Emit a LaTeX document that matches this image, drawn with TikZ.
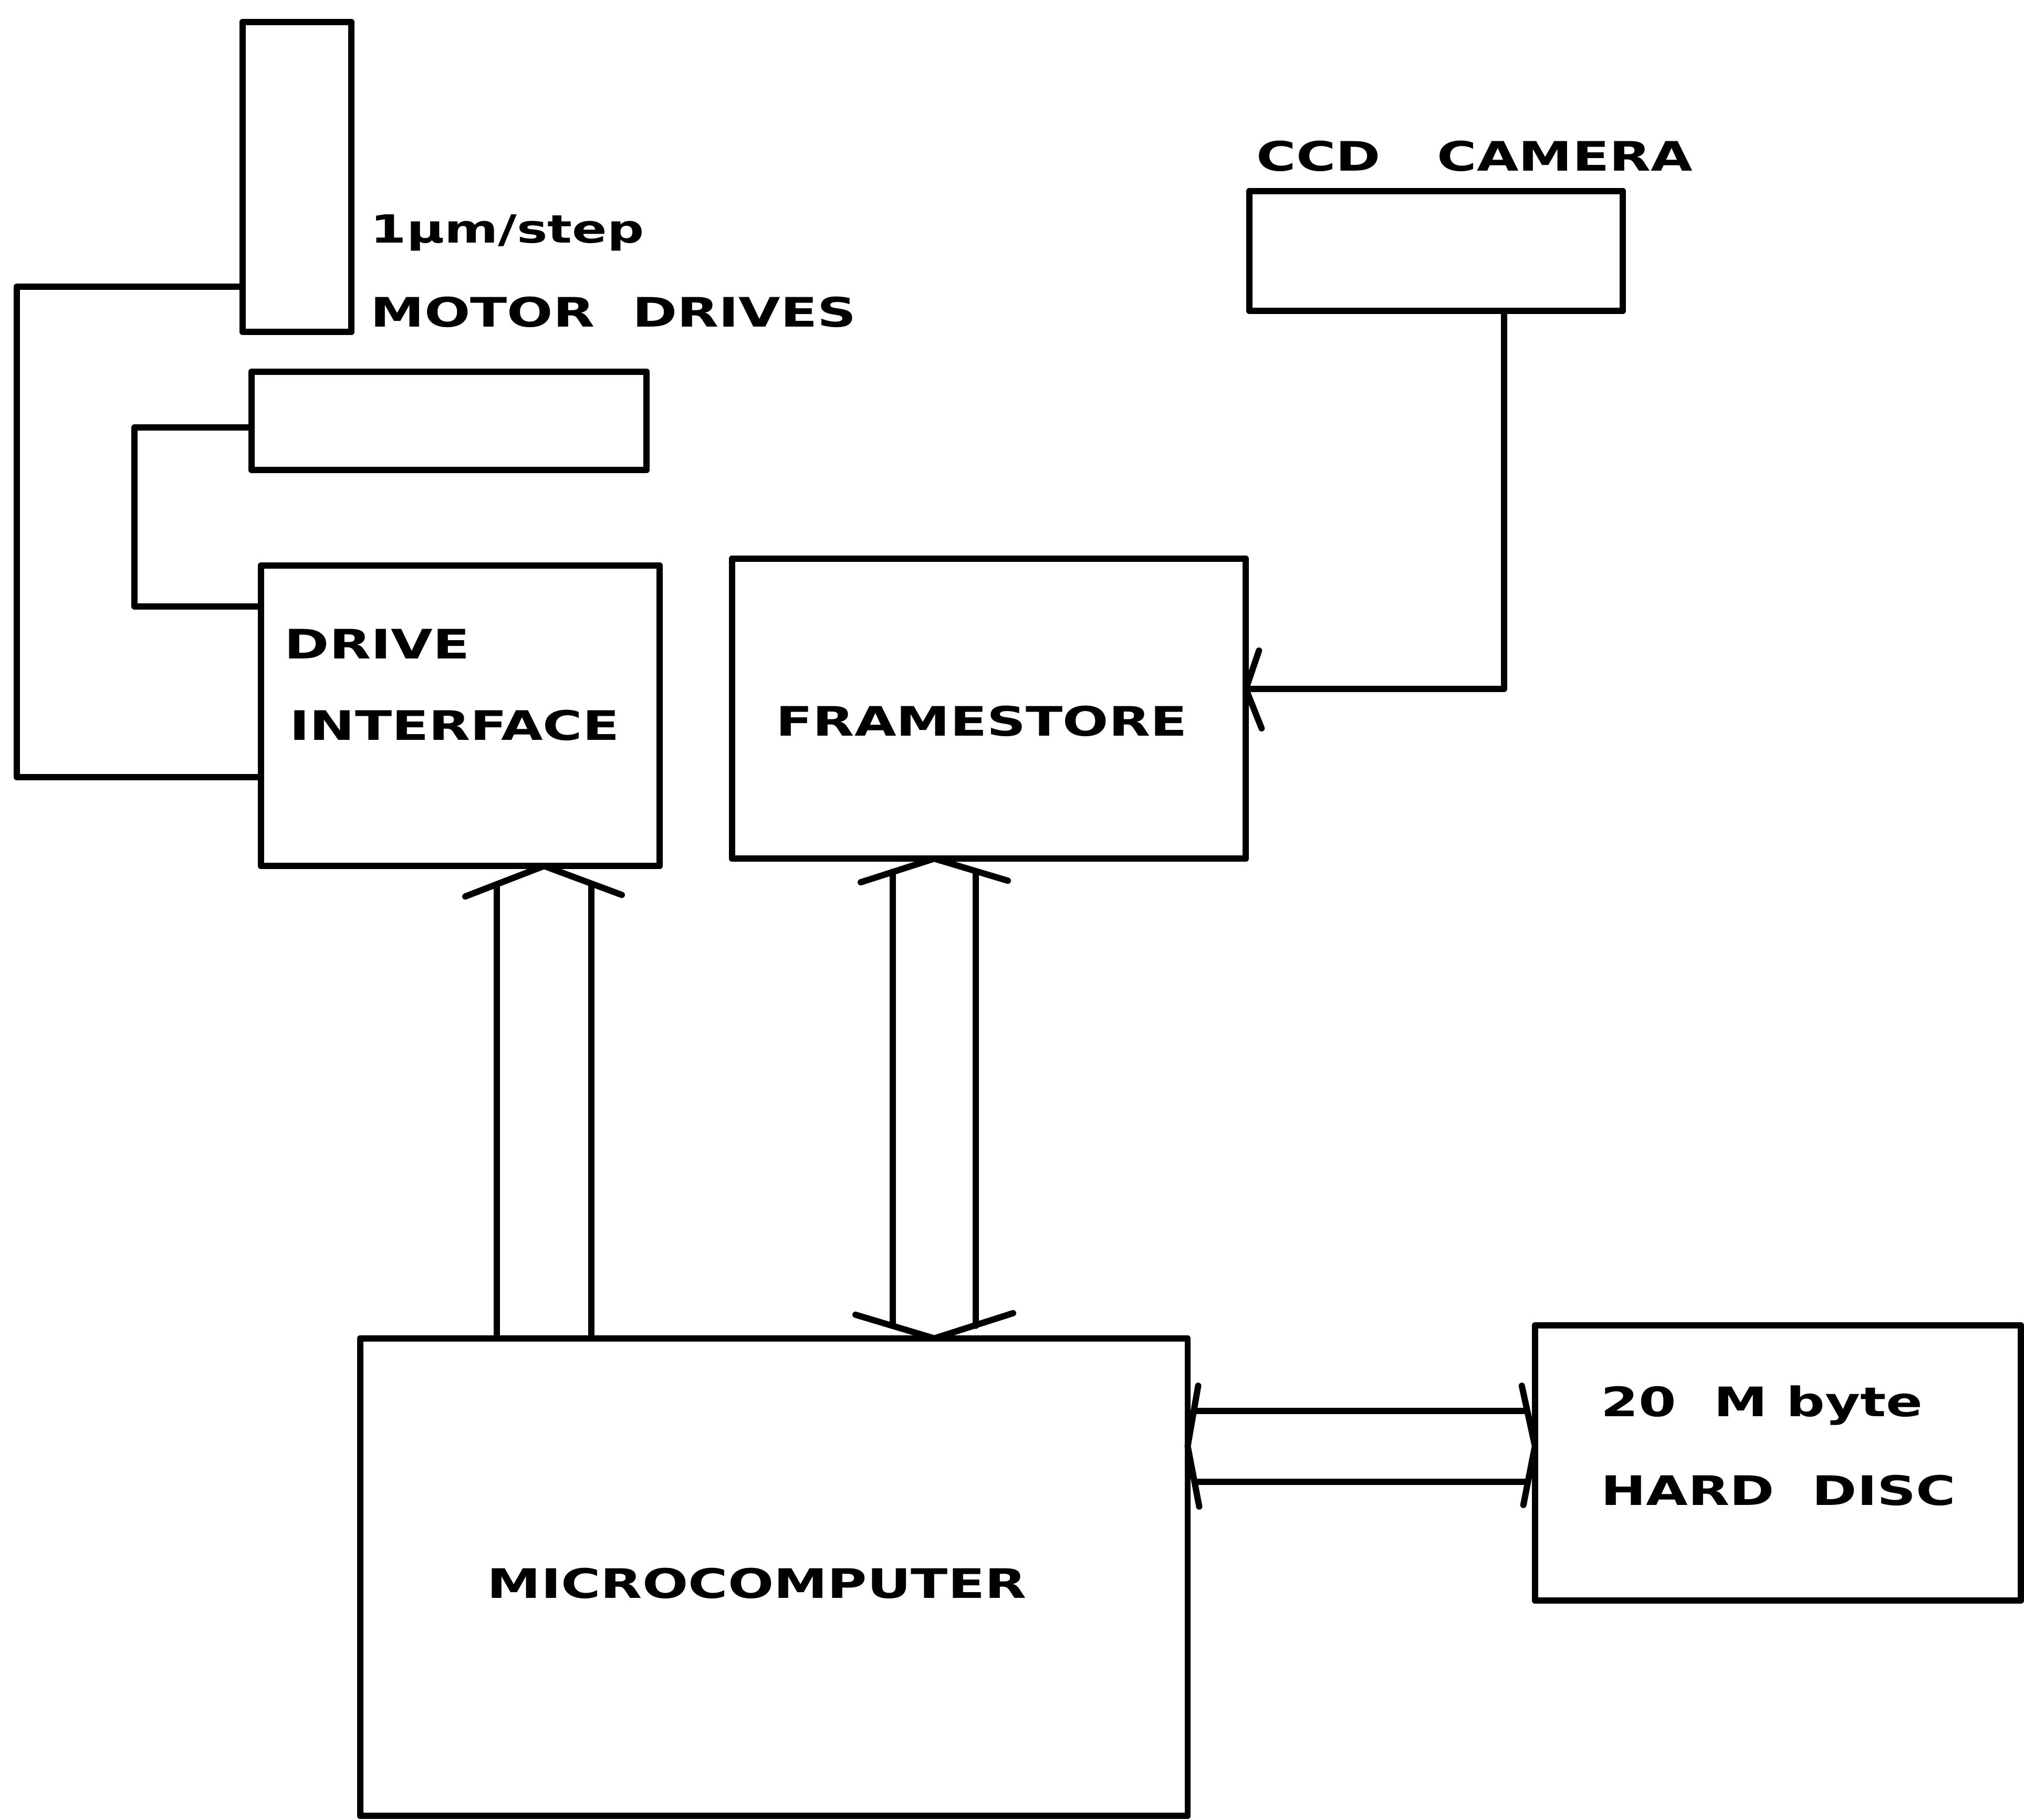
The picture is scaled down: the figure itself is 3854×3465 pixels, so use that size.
\documentclass[tikz,border=0pt]{standalone}
\usepackage{fontspec}
\newfontfamily\lab{DejaVu Sans}[FakeStretch=1.33]
\usetikzlibrary{calc}
\begin{document}
\begin{tikzpicture}[x=0.01cm, y=-0.01cm, line cap=round, line join=round]
\useasboundingbox (0,0) rectangle (3854,3465);
\tikzset{
 box/.style={draw, line width=3.4pt, inner sep=0pt, outer sep=0pt},
 wire/.style={line width=3.4pt},
 txt/.style={anchor=base west, inner sep=0pt, font=\lab\bfseries\fontsize{22}{26}\selectfont},
}
% boxes
\node[box, minimum width=2.07cm, minimum height=5.90cm] (mv) at (565.5,337) {};
\node[box, minimum width=7.52cm, minimum height=1.87cm] (mh) at (855,801.5) {};
\node[box, minimum width=7.11cm, minimum height=2.28cm] (cam) at (2734.5,478) {};
\node[box, minimum width=7.59cm, minimum height=5.72cm] (di) at (876.5,1363) {};
\node[box, minimum width=9.78cm, minimum height=5.71cm] (fs) at (1883,1349.5) {};
\node[box, minimum width=15.75cm, minimum height=9.09cm] (mc) at (1473.5,3003.5) {};
\node[box, minimum width=9.25cm, minimum height=5.24cm] (hd) at (3385.5,2786) {};
% texts
\node[txt, font=\lab\bfseries\fontsize{21}{25}\selectfont] (t1) at (705,462) {1μm/step};
\node[txt] (t2) at (705,622) {MOTOR\ \ DRIVES};
\node[txt] (t3) at (2392,325) {CCD\ \ \ CAMERA};
\node[txt] (t4) at (541,1254) {DRIVE};
\node[txt] (t5) at (551,1409) {INTERFACE};
\node[txt] (t6) at (1477,1401) {FRAMESTORE};
\node[txt] (t7) at (927,3043) {MICROCOMPUTER};
\node[txt] (t8) at (3048,2697) {20\ \ M byte};
\node[txt] (t9) at (3048,2866) {HARD\ \ DISC};
% motor wiring
\coordinate (k1) at (32,546); \coordinate (k2) at (32,1480);
\draw[wire] (mv.west |- k1) -- (k1) -- (k2) -- (di.west |- k2);
\coordinate (k3) at (256,814); \coordinate (k4) at (256,1155);
\draw[wire] (mh.west |- k3) -- (k3) -- (k4) -- (di.west |- k4);
% camera
\coordinate (k5) at (2864,1312);
\draw[wire] (cam.south -| k5) -- (k5) -- (fs.east |- k5);
\draw[wire] ($(fs.east |- k5)+(25,-73)$) -- (fs.east |- k5) -- ($(fs.east |- k5)+(30,75)$);
% drive interface bus
\coordinate (a1) at (946,0); \coordinate (a2) at (1126,0); \coordinate (ad) at (1036,0);
\draw[wire] ($(di.south -| a1)+(0,35)$) -- (mc.north -| a1);
\draw[wire] ($(di.south -| a2)+(0,35)$) -- (mc.north -| a2);
\draw[wire] ($(di.south -| ad)+(-150,58)$) -- (di.south -| ad) -- ($(di.south -| ad)+(148,55)$);
% framestore bus
\coordinate (b1) at (1700,0); \coordinate (b2) at (1858,0); \coordinate (bd) at (1779,0);
\draw[wire] ($(fs.south -| b1)+(0,25)$) -- ($(mc.north -| b1)+(0,-24)$);
\draw[wire] ($(fs.south -| b2)+(0,25)$) -- ($(mc.north -| b2)+(0,-24)$);
\draw[wire] ($(fs.south -| bd)+(-140,45)$) -- (fs.south -| bd) -- ($(fs.south -| bd)+(140,42)$);
\draw[wire] ($(mc.north -| bd)+(-150,-45)$) -- (mc.north -| bd) -- ($(mc.north -| bd)+(150,-48)$);
% hard disc bus
\coordinate (c1) at (0,2687); \coordinate (c2) at (0,2822); \coordinate (cd) at (0,2754);
\draw[wire] ($(mc.east |- c1)+(15,0)$) -- ($(hd.west |- c1)+(-15,0)$);
\draw[wire] ($(mc.east |- c2)+(15,0)$) -- ($(hd.west |- c2)+(-15,0)$);
\draw[wire] ($(mc.east |- cd)+(20,-115)$) -- (mc.east |- cd) -- ($(mc.east |- cd)+(22,115)$);
\draw[wire] ($(hd.west |- cd)+(-25,-115)$) -- (hd.west |- cd) -- ($(hd.west |- cd)+(-22,112)$);
\end{tikzpicture}
\end{document}
